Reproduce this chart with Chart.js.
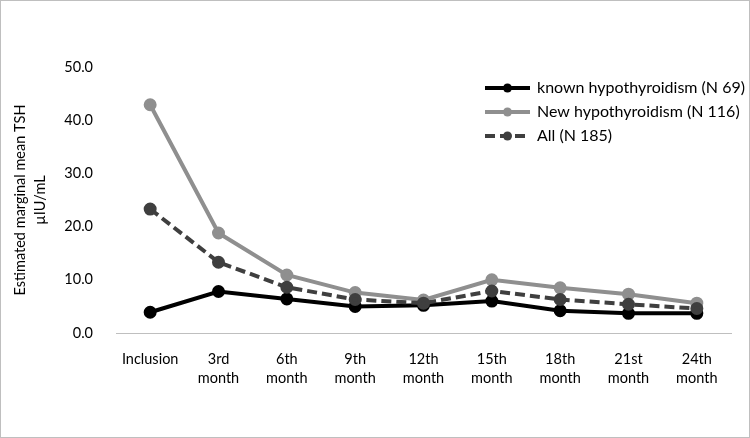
<!DOCTYPE html>
<html>
<head>
<meta charset="utf-8">
<script src="https://cdn.jsdelivr.net/npm/chart.js"></script>
<style>
  html, body { margin: 0; padding: 0; background: #fff; }
  #wrap { position: relative; width: 750px; height: 438px; box-sizing: border-box; border: 1px solid #bfbfbf; }
  #chart { position: absolute; left: -1px; top: -1px; }
</style>
</head>
<body>
<div id="wrap"><canvas id="chart" width="750" height="438"></canvas></div>
<script>
// categories / values
const categories = [
  'Inclusion', ['3rd', 'month'], ['6th', 'month'], ['9th', 'month'], ['12th', 'month'],
  ['15th', 'month'], ['18th', 'month'], ['21st', 'month'], ['24th', 'month']
];
const knownHypo = [3.9, 7.8, 6.4, 5.0, 5.2, 6.0, 4.2, 3.7, 3.7];
const newHypo = [42.9, 18.8, 10.9, 7.6, 6.2, 10.0, 8.5, 7.3, 5.6];
const allPatients = [23.3, 13.3, 8.6, 6.3, 5.6, 7.9, 6.3, 5.4, 4.6];
const seriesLabels = ['known hypothyroidism (N 69)', 'New hypothyroidism (N 116)', 'All (N 185)'];
const yTicks = [0, 10, 20, 30, 40, 50];
const yTitle = ['Estimated marginal mean TSH', 'µIU/mL'];

const FONT = 'Lato, "Open Sans", sans-serif';

// legend drawn inside the plot, line sample with a dot in the middle
const innerLegend = {
  id: 'innerLegend',
  afterDraw(chart) {
    const ctx = chart.ctx;
    const x0 = 485, y0 = 88, step = 24;
    ctx.save();
    chart.data.datasets.forEach((ds, i) => {
      const y = y0 + i * step;
      ctx.strokeStyle = ds.borderColor;
      ctx.lineWidth = ds.borderWidth;
      ctx.setLineDash(ds.borderDash || []);
      ctx.beginPath();
      ctx.moveTo(x0, y);
      ctx.lineTo(x0 + 45, y);
      ctx.stroke();
      ctx.setLineDash([]);
      ctx.fillStyle = ds.pointBackgroundColor;
      ctx.beginPath();
      ctx.arc(x0 + 22.5, y, ds.pointRadius, 0, Math.PI * 2);
      ctx.fill();
      ctx.fillStyle = '#000';
      ctx.font = '16px ' + FONT;
      ctx.textBaseline = 'middle';
      ctx.fillText(ds.label, x0 + 52, y);
    });
    ctx.restore();
  }
};

new Chart(document.getElementById('chart'), {
  type: 'line',
  data: {
    labels: categories,
    datasets: [
      {
        label: seriesLabels[0], data: knownHypo,
        borderColor: '#000000', pointBackgroundColor: '#000000', pointBorderColor: '#000000',
        borderWidth: 4, pointRadius: 4.5, order: 3
      },
      {
        label: seriesLabels[1], data: newHypo,
        borderColor: '#8f8f8f', pointBackgroundColor: '#8f8f8f', pointBorderColor: '#8f8f8f',
        borderWidth: 4, pointRadius: 4.5, order: 2
      },
      {
        label: seriesLabels[2], data: allPatients,
        borderColor: '#3f3f3f', pointBackgroundColor: '#3f3f3f', pointBorderColor: '#3f3f3f',
        borderWidth: 4, borderDash: [10, 5], pointRadius: 4.5, order: 1
      }
    ]
  },
  options: {
    responsive: false,
    animation: false,
    layout: { padding: { left: 4, right: 19, top: 67, bottom: 0 } },
    plugins: {
      legend: { display: false },
      tooltip: { enabled: false }
    },
    scales: {
      x: {
        offset: true,
        grid: { display: false },
        border: { color: '#bfbfbf', width: 1 },
        ticks: {
          color: '#000', maxRotation: 0, autoSkip: false, padding: 9,
          font: { family: FONT, size: 14.5, lineHeight: 1.3 }
        },
        afterFit: (scale) => { scale.height = 105; }
      },
      y: {
        min: 0, max: 50,
        afterBuildTicks: (scale) => { scale.ticks = yTicks.map(v => ({ value: v })); },
        grid: { display: false },
        border: { display: false },
        ticks: {
          color: '#000', padding: 15,
          font: { family: FONT, size: 14.5 },
          callback: (v) => v.toFixed(1)
        },
        title: {
          display: true, text: yTitle, color: '#000',
          font: { family: FONT, size: 14.5, lineHeight: 1.4 },
          padding: { top: 6, bottom: 0 }
        },
        afterFit: (scale) => { scale.width = 112; }
      }
    }
  },
  plugins: [innerLegend]
});
</script>
</body>
</html>
